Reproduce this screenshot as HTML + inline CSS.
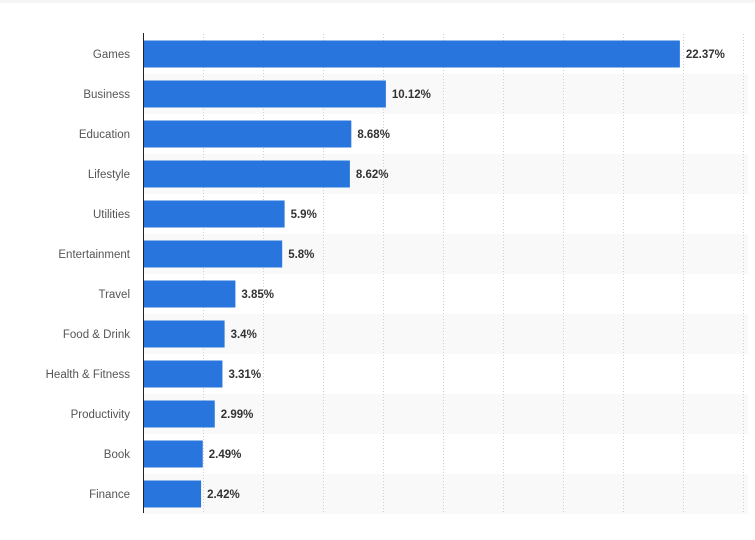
<!DOCTYPE html>
<html><head><meta charset="utf-8"><style>
body{margin:0;background:#fff;font-family:"Liberation Sans",sans-serif}
</style></head><body>
<svg width="755" height="535" xmlns="http://www.w3.org/2000/svg">
<rect x="0" y="0" width="755" height="3" fill="#f4f5f6"/>
<g id="bands"></g><g id="grid"></g><g id="bars"></g><g id="labels"></g>
<line x1="143.5" y1="33" x2="143.5" y2="513" stroke="#222" stroke-width="1"/>
</svg>
<script>
const categories=["Games","Business","Education","Lifestyle","Utilities","Entertainment","Travel","Food & Drink","Health & Fitness","Productivity","Book","Finance"];
const values=[22.37,10.12,8.68,8.62,5.9,5.8,3.85,3.4,3.31,2.99,2.49,2.42];
const valueLabels=["22.37%","10.12%","8.68%","8.62%","5.9%","5.8%","3.85%","3.4%","3.31%","2.99%","2.49%","2.42%"];
const gridTicks=[2.5,5,7.5,10,12.5,15,17.5,20,22.5,25];
const NS="http://www.w3.org/2000/svg";
const x0=143,xMax=25,xW=600,plotTop=34,rowH=40,barH=27;
const xs=v=>x0+v/xMax*xW;
const ys=i=>plotTop+i*rowH;
function mk(t,a,p){const e=document.createElementNS(NS,t);for(const k in a)e.setAttribute(k,a[k]);document.getElementById(p).appendChild(e);return e;}
categories.forEach((c,i)=>{
 if(i%2===1){const b=mk("rect",{x:x0,y:ys(i),width:xW+5,height:rowH,fill:"#f9f9f9"},"bands");
 
 }
});
gridTicks.forEach(t=>{
 const g=mk("line",{x1:xs(t)+0.5,x2:xs(t)+0.5,y1:plotTop,y2:513,stroke:"#d0d0d0","stroke-dasharray":"1,2"},"grid");
 
 
});
categories.forEach((c,i)=>{
 const y=ys(i)+(rowH-barH)/2;
 const r=mk("rect",{x:x0+1,y:y,width:xs(values[i])-x0-1,height:barH,fill:"#2876dd"},"bars");
 
 
 const l=mk("text",{x:130,y:ys(i)+rowH/2+4,"text-anchor":"end","font-size":"11.5",fill:"#555"},"labels");
 l.textContent=c;
 
 
 const v=mk("text",{x:xs(values[i])+6,y:ys(i)+rowH/2+4,"font-size":"11.5","font-weight":"bold",fill:"#333"},"labels");
 v.textContent=valueLabels[i];
 
 
});
</script>
</body></html>
